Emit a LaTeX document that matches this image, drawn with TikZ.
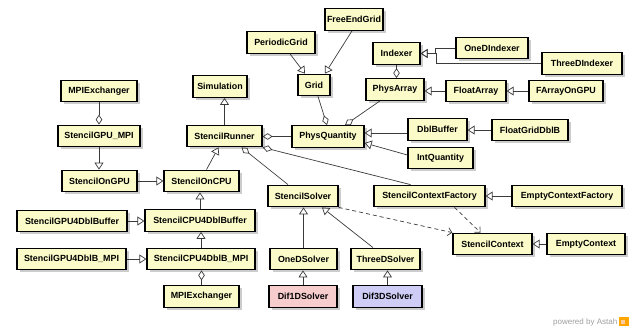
\documentclass[tikz,border=0pt]{standalone}
\usepackage{fontspec}
\setmainfont{Liberation Sans}
\usetikzlibrary{arrows.meta,shadows}
\definecolor{boxfill}{HTML}{FBFBC9}
\definecolor{pinkfill}{HTML}{F6CCCC}
\definecolor{lavfill}{HTML}{CFCDF6}
\definecolor{linegray}{HTML}{3A3A3A}
\begin{document}
\begin{tikzpicture}[x=1pt,y=-1pt,
  cls/.style={draw=black, line width=1.3pt, fill=boxfill, minimum height=21.5pt, inner sep=0pt,
    font=\fontsize{8.9}{10}\selectfont\bfseries,
    drop shadow={shadow xshift=2.5pt, shadow yshift=-2.5pt, fill=black!20, opacity=1}},
  gen/.style={draw=linegray, line width=0.7pt, -{Triangle[open,length=7pt,width=9pt,line width=0.7pt]}},
  agg/.style={draw=linegray, line width=0.7pt, -{Diamond[open,length=10pt,width=6.5pt,line width=0.7pt]}},
  dep/.style={draw=linegray, line width=0.7pt, dash pattern=on 4pt off 3pt, -{Straight Barb[length=4pt,width=8pt,line width=0.7pt]}}]
\useasboundingbox (0,0) rectangle (638,329);

% classes
\node[cls, minimum width=76pt] (mpiTop) at (99,91) {MPIExchanger};
\node[cls, minimum width=82pt] (gpuMPI) at (99,136) {StencilGPU\_MPI};
\node[cls, minimum width=54pt] (simulation) at (220,86.5) {Simulation};
\node[cls, minimum width=75pt] (runner) at (224.5,136) {StencilRunner};
\node[cls, minimum width=72pt] (physQ) at (328,136.5) {PhysQuantity};
\node[cls, minimum width=32pt] (grid) at (314,85) {Grid};
\node[cls, minimum width=68pt] (periodic) at (281,42.5) {PeriodicGrid};
\node[cls, minimum width=58pt] (freeEnd) at (354,19.5) {FreeEndGrid};
\node[cls, minimum width=47pt] (indexer) at (396.5,53.5) {Indexer};
\node[cls, minimum width=58pt] (physArray) at (395,89.5) {PhysArray};
\node[cls, minimum width=72pt] (oneDIdx) at (492,48) {OneDIndexer};
\node[cls, minimum width=80pt] (threeDIdx) at (582,63.5) {ThreeDIndexer};
\node[cls, minimum width=60pt] (floatArray) at (476,91) {FloatArray};
\node[cls, minimum width=74pt] (fArrayGPU) at (566,91) {FArrayOnGPU};
\node[cls, minimum width=59pt] (dblBuffer) at (437.5,129.5) {DblBuffer};
\node[cls, minimum width=76pt] (floatGridDblB) at (530,130) {FloatGridDblB};
\node[cls, minimum width=65pt] (intQ) at (440.5,158) {IntQuantity};
\node[cls, minimum width=75pt] (gpuOn) at (99.5,181) {StencilOnGPU};
\node[cls, minimum width=75pt] (cpuOn) at (201.5,181) {StencilOnCPU};
\node[cls, minimum width=110pt] (gpu4Dbl) at (72,221) {StencilGPU4DblBuffer};
\node[cls, minimum width=110pt] (cpu4Dbl) at (200,220.5) {StencilCPU4DblBuffer};
\node[cls, minimum width=109pt] (gpu4DblMPI) at (71.5,259) {StencilGPU4DblB\_MPI};
\node[cls, minimum width=108pt] (cpu4DblMPI) at (201,259) {StencilCPU4DblB\_MPI};
\node[cls, minimum width=75pt] (mpiBot) at (201.5,296.5) {MPIExchanger};
\node[cls, minimum width=70pt] (solver) at (303,196) {StencilSolver};
\node[cls, minimum width=111pt] (ctxFactory) at (429.5,196) {StencilContextFactory};
\node[cls, minimum width=110pt] (emptyCtxFactory) at (567,196) {EmptyContextFactory};
\node[cls, minimum width=79pt] (ctx) at (492.5,244) {StencilContext};
\node[cls, minimum width=78pt] (emptyCtx) at (586,244) {EmptyContext};
\node[cls, minimum width=67pt] (oneDSolver) at (303.5,259) {OneDSolver};
\node[cls, minimum width=69pt] (threeDSolver) at (385.5,259) {ThreeDSolver};
\node[cls, minimum width=68pt, fill=pinkfill] (dif1D) at (303,296.5) {Dif1DSolver};
\node[cls, minimum width=69pt, fill=lavfill] (dif3D) at (387.5,296.5) {Dif3DSolver};

% connectors
\draw[agg] (mpiTop.south) -- (gpuMPI.north);
\draw[gen] (gpuMPI.south) -- (gpuMPI.south |- gpuOn.north);
\draw[gen] (gpuOn.east) -- (cpuOn.west);
\draw[gen] ([xshift=5pt]cpuOn.north) -- ([xshift=-6pt]runner.south);
\draw[gen] (runner.north) -- (runner.north |- simulation.south);
\draw[gen] (cpu4Dbl.north) -- (cpu4Dbl.north |- cpuOn.south);
\draw[gen] (gpu4Dbl.east) -- (gpu4Dbl.east -| cpu4Dbl.west);
\draw[gen] (cpu4DblMPI.north) -- (cpu4DblMPI.north |- cpu4Dbl.south);
\draw[gen] (gpu4DblMPI.east) -- (cpu4DblMPI.west);
\draw[agg] (mpiBot.north) -- (mpiBot.north |- cpu4DblMPI.south);
\draw[agg] (physQ.west) -- (physQ.west -| runner.east);
\draw[agg] ([xshift=-19pt]ctxFactory.north) -- (runner.south east);
\draw[agg] ([xshift=-15pt]solver.north) -- ([xshift=17pt]runner.south);
\draw[agg] ([xshift=4pt]grid.south) -- ([xshift=-1pt]physQ.north);
\draw[agg] ([xshift=-15pt]physArray.south) -- ([xshift=17pt]physQ.north);
\draw[agg] (indexer.south) -- (indexer.south |- physArray.north);
\draw[gen] ([xshift=9pt]periodic.south) -- ([xshift=-9pt]grid.north);
\draw[gen] ([xshift=-2pt]freeEnd.south) -- ([xshift=11pt]grid.north);
\draw[gen] (oneDIdx.west) -- ++(-20,0) |- (indexer.east);
\draw[gen] (threeDIdx.west) -| ([xshift=16pt]indexer.east) -- (indexer.east);
\draw[gen] (floatArray.west) -- (floatArray.west -| physArray.east);
\draw[gen] (fArrayGPU.west) -- (floatArray.east);
\draw[gen] ([yshift=-3.5pt]dblBuffer.west) -- ([yshift=3.5pt]physQ.east);
\draw[gen] ([yshift=3pt]intQ.west) -- ([yshift=-6.5pt]physQ.east);
\draw[gen] (floatGridDblB.west) -- (floatGridDblB.west -| dblBuffer.east);
\draw[gen] (emptyCtxFactory.west) -- (ctxFactory.east);
\draw[gen] (emptyCtx.west) -- (ctx.east);
\draw[dep] (solver.south east) -- (ctx.north west);
\draw[dep] ([xshift=25pt]ctxFactory.south) -- ([xshift=-12pt]ctx.north);
\draw[gen] (oneDSolver.north) -- (oneDSolver.north |- solver.south);
\draw[gen] ([xshift=-12.5pt]threeDSolver.north) -- ([xshift=19pt]solver.south);
\draw[gen] (dif1D.north) -- (dif1D.north |- oneDSolver.south);
\draw[gen] (dif3D.north) -- (dif3D.north |- threeDSolver.south);

% footer
\node[anchor=west, inner sep=0pt, text=black!38, font=\fontsize{8}{9}\selectfont] (powered) at (553,322) {powered by Astah};
\fill[orange!70!yellow] ([xshift=2pt,yshift=5pt]powered.east) rectangle ++(10,9);
\fill[orange!40!white] ([xshift=4pt,yshift=2pt]powered.east) rectangle ++(4,4);
\end{tikzpicture}
\end{document}
